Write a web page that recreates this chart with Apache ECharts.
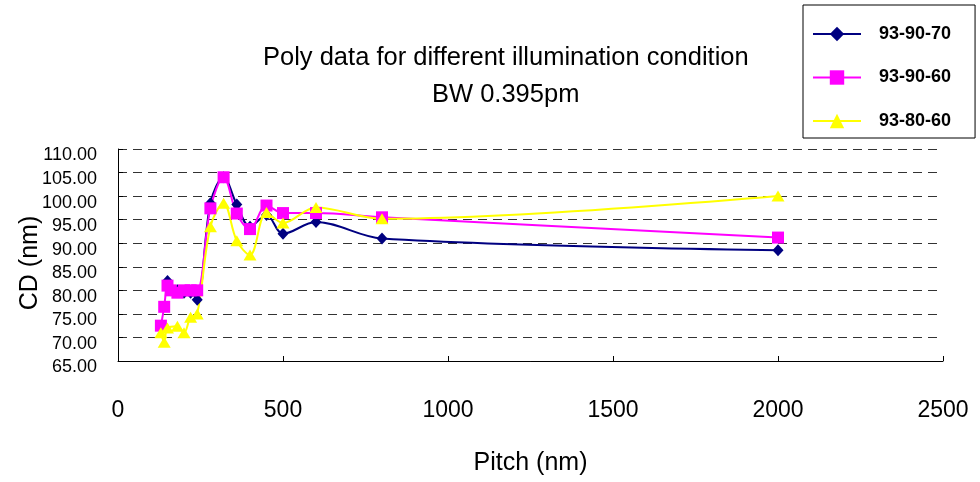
<!DOCTYPE html>
<html>
<head>
<meta charset="utf-8">
<title>Poly data for different illumination condition</title>
<script src="https://cdn.jsdelivr.net/npm/echarts@6/dist/echarts.min.js"></script>
<style>
  html, body { margin: 0; padding: 0; background: #fff; }
  #main { width: 980px; height: 482px; }
</style>
</head>
<body>
<div id="main"></div>
<script>
// values (pitch in nm, CD in nm)
var pitch_9070 = [150, 160, 180, 200, 220, 240, 280, 320, 360, 400, 450, 500, 600, 800, 2000];
var cd_9070    = [82, 80, 80, 79.5, 79.5, 78, 98.5, 104, 98.2, 93.5, 96, 92, 94.5, 91, 88.5];

var pitch_9060 = [130, 140, 150, 160, 180, 200, 220, 240, 280, 320, 360, 400, 450, 500, 600, 800, 2000];
var cd_9060    = [72.5, 76.5, 81, 80, 79.5, 80, 80, 80, 97.4, 104, 96.3, 93, 98, 96.4, 96.4, 95.5, 91.2];

var pitch_8060 = [130, 140, 150, 180, 200, 220, 240, 280, 320, 360, 400, 450, 500, 600, 800, 2000];
var cd_8060    = [71, 69, 72, 72.4, 71, 74.3, 75, 93.5, 98.5, 90.5, 87.5, 96.5, 94.3, 97.6, 95.2, 100];

var seriesNames = ['93-90-70', '93-90-60', '93-80-60'];

function pairs(xs, ys) {
  return xs.map(function (x, i) { return [x, ys[i]]; });
}

var font = "'Liberation Sans', Arial, sans-serif";

var myChart = echarts.init(document.getElementById('main'));

var option = {
  animation: false,
  backgroundColor: '#fff',
  title: [
    {
      text: 'Poly data for different illumination condition',
      left: 263,
      top: 45,
      padding: 0,
      textStyle: { fontFamily: font, fontSize: 25.5, fontWeight: 'normal', color: '#000' }
    },
    {
      text: 'BW 0.395pm',
      left: 432,
      top: 82,
      padding: 0,
      textStyle: { fontFamily: font, fontSize: 25.5, fontWeight: 'normal', color: '#000' }
    }
  ],
  legend: {
    orient: 'vertical',
    left: 803,
    top: 5,
    padding: [20, 24, 8, 9],
    itemGap: 25.5,
    itemWidth: 48,
    itemHeight: 18,
    borderColor: '#000',
    borderWidth: 1,
    data: seriesNames,
    textStyle: { fontFamily: font, fontSize: 18, fontWeight: 'bold', color: '#000', padding: [0, 0, 0, 13] }
  },
  grid: {
    left: 118,
    right: 37,
    top: 149,
    bottom: 121,
    containLabel: false,
    outerBoundsMode: 'none'
  },
  xAxis: {
    type: 'value',
    min: 0,
    max: 2500,
    interval: 500,
    name: 'Pitch (nm)',
    nameLocation: 'middle',
    nameGap: 90,
    nameMoveOverlap: false,
    nameTextStyle: { fontFamily: font, fontSize: 25, color: '#000' },
    axisLine: { show: true, lineStyle: { color: '#000', width: 1 } },
    axisTick: { show: true, inside: true, length: 5, lineStyle: { color: '#000' } },
    axisLabel: {
      margin: 38,
      fontFamily: font,
      fontSize: 23,
      color: '#000',
      formatter: function (v) { return String(v); }
    },
    splitLine: { show: false }
  },
  yAxis: {
    type: 'value',
    min: 65,
    max: 110,
    interval: 5,
    name: 'CD (nm)',
    nameLocation: 'middle',
    nameGap: 75,
    nameMoveOverlap: false,
    nameTextStyle: { fontFamily: font, fontSize: 25, color: '#000', padding: [0, 16, 0, 0] },
    axisLine: { show: true, lineStyle: { color: '#000', width: 1 } },
    axisTick: { show: true, inside: true, length: 5, lineStyle: { color: '#000' } },
    axisLabel: {
      margin: 21,
      color: '#000',
      formatter: function (v) { return '{a|' + v.toFixed(2) + '}'; },
      rich: {
        a: { fontFamily: font, fontSize: 18, color: '#000', padding: [13, 0, 0, 0] }
      }
    },
    splitLine: { show: true, lineStyle: { color: '#333', width: 1, type: [9, 6] } }
  },
  series: [
    {
      name: seriesNames[0],
      type: 'line',
      smooth: 0.35,
      data: pairs(pitch_9070, cd_9070),
      symbol: 'diamond',
      symbolSize: [11, 12],
      lineStyle: { color: '#000080', width: 2 },
      itemStyle: { color: '#000080' }
    },
    {
      name: seriesNames[1],
      type: 'line',
      smooth: 0.35,
      data: pairs(pitch_9060, cd_9060),
      symbol: 'rect',
      symbolSize: 12,
      lineStyle: { color: '#ff00ff', width: 2 },
      itemStyle: { color: '#ff00ff' }
    },
    {
      name: seriesNames[2],
      type: 'line',
      smooth: 0.35,
      data: pairs(pitch_8060, cd_8060),
      symbol: 'triangle',
      symbolSize: [13, 11],
      lineStyle: { color: '#ffff00', width: 2 },
      itemStyle: { color: '#ffff00' }
    }
  ]
};

myChart.setOption(option);
</script>
</body>
</html>
